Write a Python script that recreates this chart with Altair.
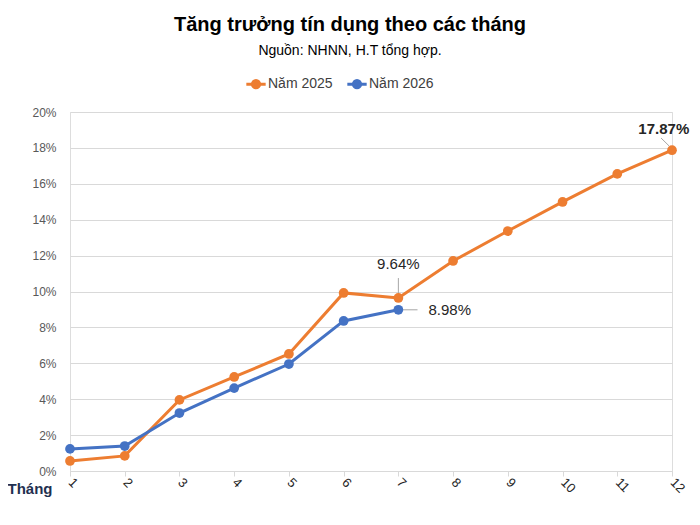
import pandas as pd
import altair as alt

# data (credit growth, % YTD)
months_2025 = [1, 2, 3, 4, 5, 6, 7, 8, 9, 10, 11, 12]
growth_2025 = [0.56, 0.84, 3.96, 5.24, 6.52, 9.92, 9.64, 11.70, 13.37, 14.99, 16.55, 17.87]
months_2026 = [1, 2, 3, 4, 5, 6, 7]
growth_2026 = [1.23, 1.39, 3.23, 4.62, 5.96, 8.36, 8.98]
series_names = ["Năm 2025", "Năm 2026"]
series_colors = ["#ED7D31", "#4472C4"]
y_ticks = [0, 2, 4, 6, 8, 10, 12, 14, 16, 18, 20]

# callout labels and their leader lines (data units)
label_text = ["17.87%", "9.64%", "8.98%"]
label_x = [11.85, 7.0, 7.55]
label_y = [19.05, 11.55, 8.98]
label_bold = ["bold", "normal", "normal"]
label_align = ["center", "center", "left"]
leader_x = [11.8, 7.0, 7.0]
leader_x2 = [11.95, 7.0, 7.35]
leader_y = [18.55, 10.75, 8.98]
leader_y2 = [18.1, 9.85, 8.98]

df = pd.concat([
    pd.DataFrame({"month": months_2025, "growth": growth_2025, "series": series_names[0]}),
    pd.DataFrame({"month": months_2026, "growth": growth_2026, "series": series_names[1]}),
])
labels = pd.DataFrame({"text": label_text, "x": label_x, "y": label_y,
                       "weight": label_bold, "align": label_align})
leaders = pd.DataFrame({"x": leader_x, "x2": leader_x2, "y": leader_y, "y2": leader_y2})

x_scale = alt.Scale(domain=[1, 12], nice=False, zero=False)
y_scale = alt.Scale(domain=[0, 20], nice=False)

x_axis = alt.Axis(
    values=months_2025, format="d", grid=False,
    labelAngle=45, labelAlign="left", labelBaseline="middle",
    labelFontSize=13, labelColor="#262626", labelPadding=4,
    tickColor="#D9D9D9", tickSize=5, domainColor="#D9D9D9",
    titleFontSize=15, titleFontWeight="bold", titleColor="#1F3050",
    titleAngle=0, titleAlign="right", titleBaseline="middle",
    titleX=-18, titleY=17,
)
y_axis = alt.Axis(
    values=y_ticks, labelExpr="datum.value + '%'", labelOverlap=False,
    domain=False, ticks=False, labelPadding=14,
    labelFontSize=12, labelColor="#595959",
    gridColor="#D9D9D9", gridWidth=1,
)


def xy(xf, yf):
    return dict(
        x=alt.X(xf, scale=x_scale, title="Tháng", axis=x_axis),
        y=alt.Y(yf, scale=y_scale, title=None, axis=y_axis),
    )


legend_symbol = ("M-1.2,0L1.2,0 M-0.45,0 A0.45,0.45 0 1,0 0.45,0 "
                 "A0.45,0.45 0 1,0 -0.45,0")

leader_rules = alt.Chart(leaders).mark_rule(color="#A6A6A6", strokeWidth=1).encode(
    **xy("x:Q", "y:Q"),
    x2="x2:Q",
    y2="y2:Q",
)

lines = alt.Chart(df).mark_line(
    strokeWidth=3,
    point=alt.OverlayMarkDef(filled=True, size=95),
).encode(
    **xy("month:Q", "growth:Q"),
    color=alt.Color(
        "series:N",
        scale=alt.Scale(domain=series_names, range=series_colors),
        legend=alt.Legend(
            title=None, orient="none", direction="horizontal",
            legendX=176, legendY=-38,
            symbolType=legend_symbol, symbolSize=260, symbolStrokeWidth=3,
            labelFontSize=14, labelColor="#404040", columnPadding=8,
            labelOffset=2,
        ),
    ),
    order="month:Q",
)

text_normal = alt.Chart(labels).transform_filter("datum.weight == 'normal'")
callouts = alt.layer(
    text_normal.transform_filter("datum.align == 'center'").mark_text(
        fontSize=15, color="#262626", align="center", baseline="middle"),
    text_normal.transform_filter("datum.align == 'left'").mark_text(
        fontSize=15, color="#262626", align="left", baseline="middle"),
    alt.Chart(labels).transform_filter("datum.weight == 'bold'").mark_text(
        fontSize=15, fontWeight="bold", color="#262626", align="center", baseline="middle"),
).encode(
    **xy("x:Q", "y:Q"),
    text="text:N",
)

chart = alt.layer(leader_rules, lines, callouts).properties(
    width=602,
    height=359,
    autosize=alt.AutoSizeParams(type="none"),
    padding={"left": 62, "top": 104, "right": 20, "bottom": 40},
    title=alt.Title(
        "Tăng trưởng tín dụng theo các tháng",
        subtitle="Nguồn: NHNN, H.T tổng hợp.",
        fontSize=20, fontWeight="bold", color="#000000",
        subtitleFontSize=14, subtitleColor="#000000", subtitlePadding=9,
        anchor="middle", dx=-21, offset=16,
    ),
).configure_view(stroke=None).configure(font="Liberation Sans")

chart.save("out.html", embed_options={"renderer": "svg", "actions": False})
